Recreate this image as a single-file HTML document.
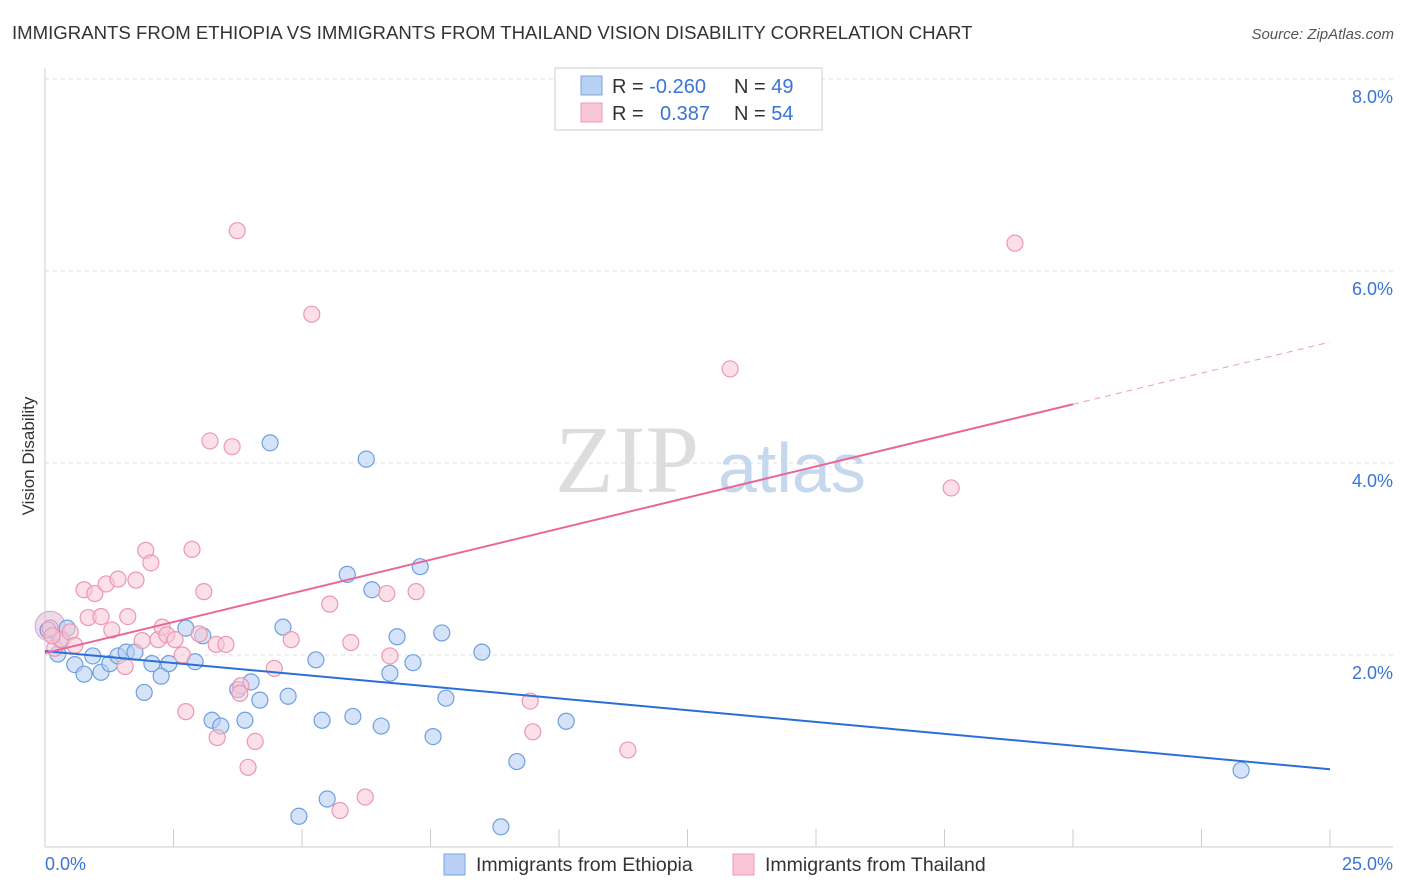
<!DOCTYPE html>
<html><head><meta charset="utf-8">
<style>
body{margin:0;background:#fff;font-family:"Liberation Sans",sans-serif;}
svg{display:block}
</style></head>
<body>
<svg id="chart" width="1406" height="892">
<text x="12" y="39" font-size="18.6" fill="#333">IMMIGRANTS FROM ETHIOPIA VS IMMIGRANTS FROM THAILAND VISION DISABILITY CORRELATION CHART</text>
<text x="1394" y="39" font-size="15" fill="#555" font-style="italic" text-anchor="end">Source: ZipAtlas.com</text>
<text transform="translate(34,456) rotate(-90)" font-size="17" fill="#333" text-anchor="middle">Vision Disability</text>
<g id="grid"></g>
<g id="axes"></g>
<text x="555" y="492" font-size="96" fill="#ddd" font-family="Liberation Serif,serif">ZIP</text>
<text x="718" y="492" font-size="70" fill="#c6d8ee">atlas</text>
<g id="marks"></g>
<g>
<rect x="555" y="68" width="267" height="62" fill="#fff" stroke="#ccc"/>
<rect x="581" y="76" width="21" height="19" fill="#b7d0f3" stroke="#7aa6e6"/>
<rect x="581" y="103" width="21" height="19" fill="#f8c6d6" stroke="#ee9ab5"/>
<text x="612" y="93" font-size="20" fill="#333">R = <tspan fill="#3a73d6">-0.260</tspan><tspan x="734">N = </tspan><tspan fill="#3a73d6">49</tspan></text>
<text x="612" y="120" font-size="20" fill="#333">R = <tspan x="660" fill="#3a73d6">0.387</tspan><tspan x="734">N = </tspan><tspan fill="#3a73d6">54</tspan></text>
</g>
<g>
<rect x="444" y="854" width="21" height="21" fill="#b7d0f3" stroke="#7aa6e6"/>
<text x="476" y="871" font-size="19.5" fill="#333">Immigrants from Ethiopia</text>
<rect x="733" y="854" width="21" height="21" fill="#f8c6d6" stroke="#ee9ab5"/>
<text x="765" y="871" font-size="19.5" fill="#333">Immigrants from Thailand</text>
</g>
</svg>
<script>
const xTicks=[0,2.5,5,7.5,10,12.5,15,17.5,20,22.5,25];
const yTicks=[2,4,6,8];
const yTickLabels=["2.0%","4.0%","6.0%","8.0%"];
const ethX=[0.43,0.25,0.58,0.76,0.93,1.09,1.26,1.42,1.58,1.75,1.93,2.08,2.26,2.41,2.74,2.92,3.07,3.25,3.42,3.75,3.89,4.01,4.18,4.38,4.63,4.73,4.94,5.27,5.39,5.49,5.88,5.99,6.25,6.36,6.54,6.71,6.85,7.16,7.30,7.55,7.72,7.80,8.50,8.87,9.18,10.14,23.27,0.06,0.29];
const ethY=[2.28,2.01,1.90,1.80,1.99,1.82,1.91,1.99,2.03,2.03,1.61,1.91,1.78,1.91,2.28,1.93,2.20,1.32,1.26,1.64,1.32,1.72,1.53,4.21,2.29,1.57,0.32,1.95,1.32,0.50,2.84,1.36,4.04,2.68,1.26,1.81,2.19,1.92,2.92,1.15,2.23,1.55,2.03,0.21,0.89,1.31,0.80,2.26,2.16];
const thaX=[0.10,0.19,0.33,0.49,0.58,0.76,0.84,0.97,1.09,1.19,1.30,1.42,1.56,1.61,1.77,1.89,1.96,2.06,2.20,2.28,2.37,2.53,2.67,2.74,2.86,3.00,3.09,3.21,3.35,3.33,3.52,3.64,3.74,3.81,3.95,4.09,4.46,4.79,5.19,5.54,5.74,5.95,6.23,6.65,6.71,7.22,9.44,9.49,11.34,13.33,17.63,18.87,3.79,0.14];
const thaY=[2.28,2.07,2.16,2.24,2.10,2.68,2.39,2.64,2.40,2.74,2.26,2.79,1.88,2.40,2.78,2.15,3.09,2.96,2.16,2.29,2.21,2.16,2.00,1.41,3.10,2.22,2.66,4.23,1.14,2.11,2.11,4.17,6.42,1.68,0.83,1.10,1.86,2.16,5.55,2.53,0.38,2.13,0.52,2.64,1.99,2.66,1.52,1.20,1.01,4.98,3.74,6.29,1.60,2.20];
const ethTrend=[2.04,0.81];
const thaTrend=[2.02,5.26];
const thaSolidEnd=20;
const NS="http://www.w3.org/2000/svg";
const sx=v=>45+v*(1285/25), sy=v=>847-v*96;
function mk(t,a,p){const e=document.createElementNS(NS,t);for(const k in a)e.setAttribute(k,a[k]);p.appendChild(e);return e;}
const grid=document.getElementById('grid'),axes=document.getElementById('axes'),marks=document.getElementById('marks');
yTicks.forEach((v,i)=>{
 const l=mk('line',{x1:45,x2:1393,y1:sy(v),y2:sy(v),stroke:'#ddd','stroke-dasharray':'4,4'},grid);
 
 
 const t=mk('text',{x:1393,y:sy(v)+24,'font-size':18,fill:'#3a73d6','text-anchor':'end'},axes);
 t.textContent=yTickLabels[i];
 
 
});
mk('line',{x1:45,x2:45,y1:68,y2:847,stroke:'#ccc'},axes);
mk('line',{x1:45,x2:1393,y1:847,y2:847,stroke:'#ccc'},axes);
xTicks.forEach(v=>{
 const l=mk('line',{x1:sx(v),x2:sx(v),y1:829,y2:847,stroke:'#ccc'},axes);
 
 
});
const x0=mk('text',{x:45,y:870,'font-size':18,fill:'#3a73d6'},axes);x0.textContent="0.0%";


const x1=mk('text',{x:1393,y:870,'font-size':18,fill:'#3a73d6','text-anchor':'end'},axes);x1.textContent="25.0%";


const big=mk('circle',{cx:sx(0.1),cy:sy(2.3),r:15,fill:'#d8b8d8','fill-opacity':0.5,stroke:'#e0a0c0'},marks);


ethX.forEach((x,i)=>{
 const c=mk('circle',{cx:sx(x),cy:sy(ethY[i]),r:8,fill:'#b7d0f3','fill-opacity':0.6,stroke:'#6f9fe0','stroke-width':1.2},marks);
 
 
});
thaX.forEach((x,i)=>{
 const c=mk('circle',{cx:sx(x),cy:sy(thaY[i]),r:8,fill:'#f8c6d6','fill-opacity':0.55,stroke:'#ec97b3','stroke-width':1.2},marks);
 
 
});
const bl=mk('line',{x1:sx(0),y1:sy(ethTrend[0]),x2:sx(25),y2:sy(ethTrend[1]),stroke:'#2a6fd8','stroke-width':2},marks);


const ty=v=>thaTrend[0]+(thaTrend[1]-thaTrend[0])*v/25;
const pl=mk('line',{x1:sx(0),y1:sy(ty(0)),x2:sx(thaSolidEnd),y2:sy(ty(thaSolidEnd)),stroke:'#e8679a','stroke-width':2},marks);


const pd=mk('line',{x1:sx(thaSolidEnd),y1:sy(ty(thaSolidEnd)),x2:sx(25),y2:sy(ty(25)),stroke:'#e8a0bb','stroke-width':1,'stroke-dasharray':'6,5'},marks);


</script>
</body></html>
